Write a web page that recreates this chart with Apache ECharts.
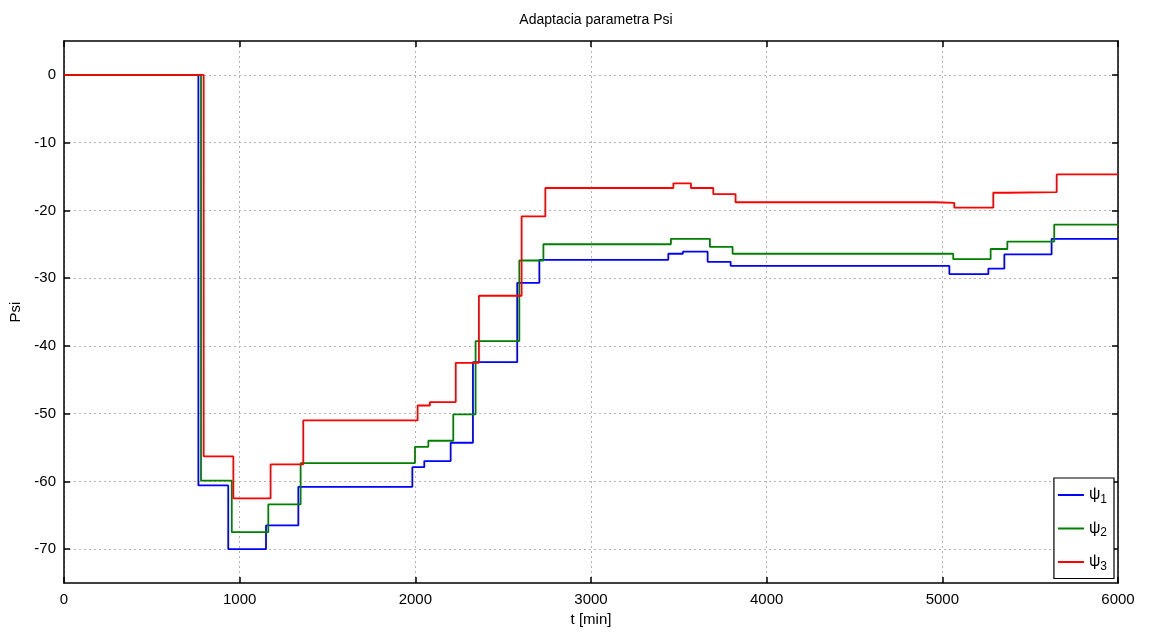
<!DOCTYPE html>
<html>
<head>
<meta charset="utf-8">
<script src="https://cdn.jsdelivr.net/npm/echarts@6/dist/echarts.min.js"></script>
<style>html,body{margin:0;padding:0;background:#fff}#c{width:1150px;height:634px}</style>
</head>
<body>
<div id="c"></div>
<script>
// step data: [t, value] — value holds from t until next point
const psi1 = [[0,0],[765,-60.6],[935,-70],[1150,-66.5],[1334,-60.8],[1983,-57.9],[2051,-57.0],[2201,-54.3],[2328,-42.4],[2580,-30.7],[2706,-27.3],[3440,-26.4],[3523,-26.1],[3664,-27.6],[3795,-28.2],[5040,-29.4],[5262,-28.6],[5353,-26.5],[5622,-24.2],[6000,-24.2]];
const psi2 = [[0,0],[780,-59.9],[955,-67.5],[1163,-63.4],[1347,-57.3],[1998,-54.9],[2074,-54.0],[2216,-50.1],[2343,-39.3],[2592,-27.4],[2729,-25.0],[3455,-24.2],[3677,-25.4],[3806,-26.4],[5062,-27.2],[5275,-25.7],[5370,-24.6],[5637,-22.1],[6000,-22.1]];
const psi3 = [[0,0],[795,-56.3],[964,-62.5],[1176,-57.5],[1362,-51.0],[2013,-48.8],[2083,-48.3],[2230,-42.5],[2362,-32.6],[2605,-20.9],[2740,-16.7],[3469,-16.0],[3569,-16.7],[3696,-17.6],[3823,-18.8],[4958,-18.9],[5068,-19.6],[5290,-17.4],[5370,-17.3],[5651,-14.7],[6000,-14.7]];
const seriesNames = ['ψ1','ψ2','ψ3'];
const yTicks = [0,-10,-20,-30,-40,-50,-60,-70];
const titleText = 'Adaptacia parametra Psi';
const xName = 't [min]';
const yName = 'Psi';

const font = 'Liberation Sans, Arial, Helvetica, sans-serif';
const chart = echarts.init(document.getElementById('c'), null, {renderer:'canvas'});
const grid = {left:64, top:41, right:32, bottom:51};
const tickStyle = {show:true, inside:true, length:6, lineStyle:{color:'#000', width:1.5}};
const lineAx = {show:true, onZero:false, lineStyle:{color:'#000', width:1.5}};
const split = {show:true, lineStyle:{color:'#b4b4b4', type:[2,3], width:1}};
const colors = ['#0000ff','#008000','#ff0000'];
const datas = [psi1, psi2, psi3];
chart.setOption({
  animation:false,
  backgroundColor:'#fff',
  title:{text:titleText, left:591, top:8, textAlign:'center',
    textStyle:{fontFamily:font, fontSize:14, fontWeight:'normal', color:'#000'}},
  grid:grid,
  legend:{
    orient:'vertical', right:36, top:478,
    backgroundColor:'#fff', borderColor:'#000', borderWidth:1.2, borderRadius:0,
    padding:[9,7,6,4], itemWidth:26, itemHeight:2, itemGap:15, icon:'rect',
    data:seriesNames,
    formatter:function(n){return '{a|ψ}{s|'+n.slice(1)+'}';},
    textStyle:{fontFamily:font, color:'#000', padding:[0,0,0,0],
      rich:{a:{fontSize:16, lineHeight:21, fontFamily:font, color:'#000'},
            s:{fontSize:12, lineHeight:12, fontFamily:font, color:'#000', verticalAlign:'bottom'}}}
  },
  xAxis:[{
    type:'value', min:0, max:6000, interval:1000, position:'bottom',
    name:xName, nameLocation:'middle', nameGap:24,
    nameTextStyle:{fontFamily:font, fontSize:15, color:'#000'},
    axisLine:lineAx, axisTick:tickStyle, splitLine:split,
    axisLabel:{fontFamily:font, fontSize:15, color:'#000', margin:9, formatter:function(v){return String(v);}}
  },{
    type:'value', min:0, max:6000, interval:1000, position:'top',
    axisLine:lineAx, axisTick:tickStyle, splitLine:{show:false}, axisLabel:{show:false}
  }],
  yAxis:[{
    type:'value', min:-75, max:5, position:'left',
    name:yName, nameLocation:'middle', nameGap:38, nameRotate:90,
    nameTextStyle:{fontFamily:font, fontSize:15, color:'#000'},
    axisLine:lineAx,
    axisTick:Object.assign({customValues:yTicks}, tickStyle),
    splitLine:split,
    axisLabel:{customValues:yTicks, fontFamily:font, fontSize:15, color:'#000', margin:8}
  },{
    type:'value', min:-75, max:5, position:'right',
    axisLine:lineAx,
    axisTick:Object.assign({customValues:yTicks}, tickStyle),
    splitLine:{show:false}, axisLabel:{show:false, customValues:yTicks}
  }],
  series: datas.map(function(d,i){return {
    name:seriesNames[i], type:'line', step:'end', data:d,
    xAxisIndex:0, yAxisIndex:0, symbol:'none', showSymbol:false,
    lineStyle:{color:colors[i], width:1.8}, itemStyle:{color:colors[i]},
    z:2+i
  };})
});
</script>
</body>
</html>
